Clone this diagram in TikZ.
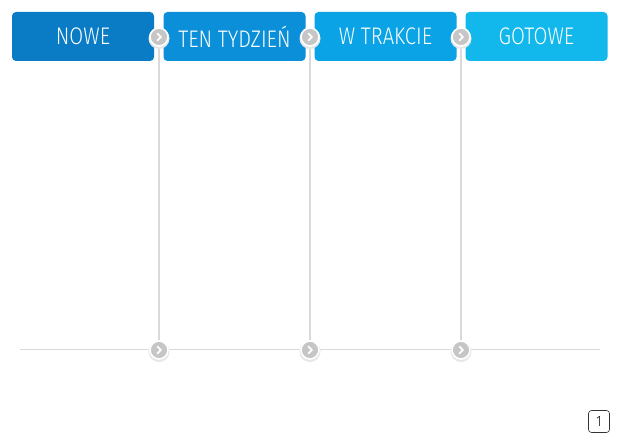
\documentclass[tikz,border=0pt]{standalone}
\usepackage{fontspec}
\setmainfont{Fira Sans}[UprightFont={* Light}, FakeStretch=0.84]
\begin{document}
\begin{tikzpicture}[x=1pt,y=-1pt,
  colbox/.style={rounded corners=4pt, minimum width=142pt, minimum height=49pt,
    inner sep=0pt, text=white, font=\fontsize{24}{26}\selectfont},
  knob/.style={circle, minimum size=18pt, inner sep=0pt, fill=knobgray,
    draw=white, line width=1.6pt,
    path picture={\draw[white, line width=1.8pt, line cap=round, line join=round]
      ([xshift=-1.6pt,yshift=3.4pt]path picture bounding box.center) --
      ([xshift=1.9pt]path picture bounding box.center) --
      ([xshift=-1.6pt,yshift=-3.4pt]path picture bounding box.center);}},
  rail/.style={draw=railgray, line width=1.8pt}
]
\definecolor{c1}{HTML}{0A7CC6}
\definecolor{c2}{HTML}{0A8FD8}
\definecolor{c3}{HTML}{09A3E6}
\definecolor{c4}{HTML}{12B8EC}
\definecolor{knobgray}{HTML}{C6C6C6}
\definecolor{railgray}{HTML}{DADADA}
\definecolor{shadowgray}{HTML}{E6E6E6}
\useasboundingbox[fill=white] (0,0) rectangle (620,443);

\node[colbox, fill=c1] (b1) at (83,36.5) {NOWE};
\node[colbox, fill=c2] (b2) at (234.5,36.5) {TEN TYDZIEŃ};
\node[colbox, fill=c3] (b3) at (385.5,36.5) {W TRAKCIE};
\node[colbox, fill=c4] (b4) at (536.5,36.5) {GOTOWE};

\coordinate (hl) at (20,349.5);
\coordinate (hr) at (600,349.5);
\draw[rail] (hl) -- (hr);

\foreach \i/\x in {1/159,2/310,3/461}{
  \coordinate (t\i) at (\x,37);
  \coordinate (m\i) at (\x,350);
  \draw[rail] (t\i) -- (m\i);
  \fill[shadowgray] (\x,38.5) circle (10.5pt);
  \fill[shadowgray] (\x,351.5) circle (10.5pt);
  \node[knob] (kt\i) at (t\i) {};
  \node[knob] (kb\i) at (m\i) {};
}

\node[draw=black!80, line width=0.6pt, rounded corners=3pt, minimum width=21pt,
  minimum height=22pt, inner sep=0pt, font=\fontsize{15}{16}\selectfont]
  (badge) at (599,421.5) {1};
\end{tikzpicture}
\end{document}
